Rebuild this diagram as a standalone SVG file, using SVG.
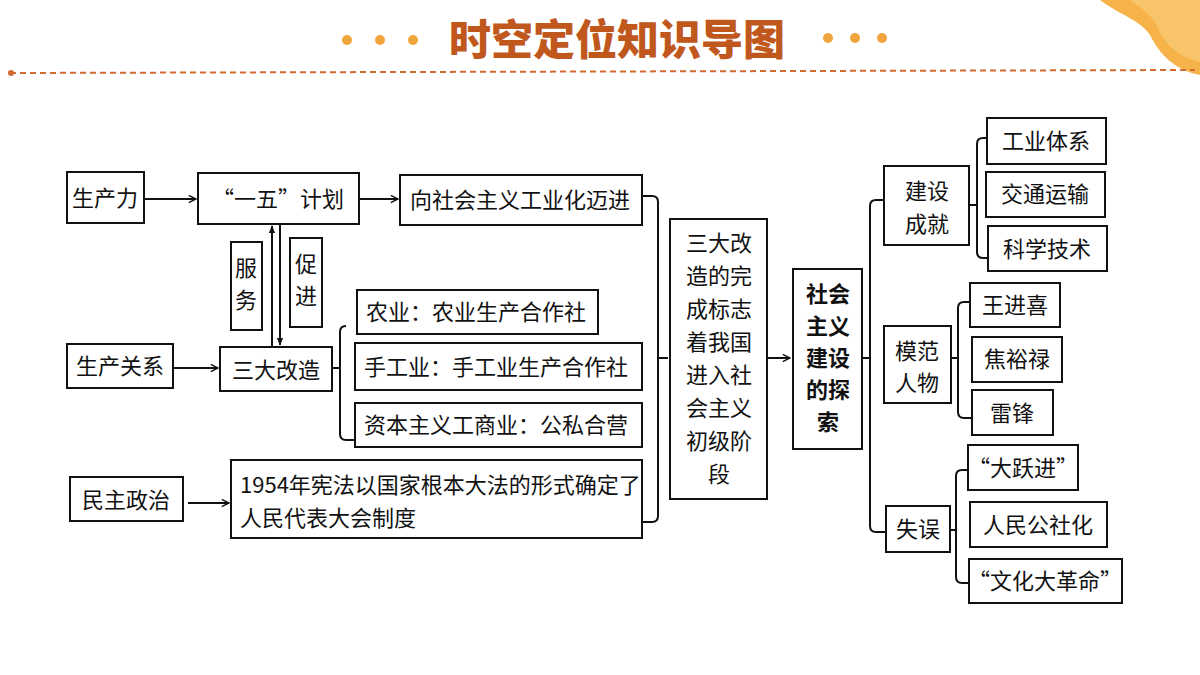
<svg xmlns="http://www.w3.org/2000/svg" width="1200" height="675" viewBox="0 0 1200 675">
<style>
.b{fill:#fff;stroke:#111;stroke-width:2}
.t{font-family:"Noto Sans CJK SC","Liberation Serif",sans-serif;font-size:22px;fill:#111}
.c{fill:none;stroke:#111;stroke-width:2}
</style>
<defs><marker id="a" viewBox="0 0 10 10" refX="9" refY="5" markerWidth="9" markerHeight="9" orient="auto" markerUnits="userSpaceOnUse"><path d="M1,1 L9,5 L1,9" fill="none" stroke="#111" stroke-width="1.6"/></marker>
<marker id="f" viewBox="0 0 10 10" refX="9" refY="5" markerWidth="8" markerHeight="8" orient="auto" markerUnits="userSpaceOnUse"><path d="M0,1 L10,5 L0,9z" fill="#111"/></marker></defs>
<rect width="1200" height="675" fill="#fff"/>
<g id="header">
<path d="M1100,0 L1200,0 L1200,75 C1175,70 1160,55 1150,35 C1140,20 1120,15 1100,0z" fill="#f5b34a"/>
<path d="M1130,0 L1200,0 L1200,62 C1180,58 1165,45 1158,28 C1150,12 1140,8 1130,0z" fill="#f7c46a"/>
<g fill="#f0a43c"><circle cx="347" cy="40" r="5"/><circle cx="380" cy="40" r="5"/><circle cx="413" cy="40" r="5"/><circle cx="828" cy="38" r="5"/><circle cx="855" cy="38" r="5"/><circle cx="882" cy="38" r="5"/></g>
<text x="617" y="55" text-anchor="middle" font-family="Noto Sans CJK SC,sans-serif" font-weight="900" font-size="42" fill="#c0581e">时空定位知识导图</text>
<line x1="10" y1="73" x2="1195" y2="70" stroke="#d06a30" stroke-width="2" stroke-dasharray="6,4"/>
<circle cx="11" cy="73" r="3" fill="#d06a30"/>
</g>
<g id="connectors">
<line class="c" x1="144" y1="199" x2="196" y2="199" marker-end="url(#a)"/>
<line class="c" x1="359" y1="199" x2="398" y2="199" marker-end="url(#a)"/>
<line class="c" x1="173" y1="368" x2="218" y2="368" marker-end="url(#a)"/>
<line class="c" x1="188" y1="503" x2="229" y2="503" marker-end="url(#a)"/>
<line class="c" x1="272" y1="346" x2="272" y2="226" marker-end="url(#f)"/>
<line class="c" x1="280" y1="225" x2="280" y2="345" marker-end="url(#f)"/>
<path class="c" d="M332,368 H340 M346,326 Q340,326 340,332 V434 Q340,440 346,440 H355"/>
<path class="c" d="M642,196 H652 Q658,196 658,202 V516 Q658,522 652,522 H642 M658,358 H668"/>
<line class="c" x1="767" y1="358" x2="790" y2="358" marker-end="url(#a)"/>
<path class="c" d="M862,358 H870 M884,200 H876 Q870,200 870,206 V526 Q870,532 876,532 H886"/>
<path class="c" d="M969,205 H977 M987,138 H983 Q977,138 977,144 V252 Q977,258 983,258 H988"/>
<path class="c" d="M951,358 H958 M970,302 H964 Q958,302 958,308 V412 Q958,418 964,418 H972"/>
<path class="c" d="M950,530 H956 M968,470 H962 Q956,470 956,476 V577 Q956,583 962,583 H969"/>
</g>
<g id="n1"><rect class="b" x="67" y="172" width="77" height="51"/><text class="t" x="105" y="206" text-anchor="middle">生产力</text></g>
<g id="n2"><rect class="b" x="198" y="173" width="161" height="51"/><text class="t" x="278" y="207" text-anchor="middle">“一五”计划</text></g>
<g id="n3"><rect class="b" x="400" y="175" width="242" height="50"/><text class="t" x="410" y="208">向社会主义工业化迈进</text></g>
<g id="n4"><rect class="b" x="231" y="242" width="31" height="88"/><text class="t" x="246" y="276" text-anchor="middle">服</text><text class="t" x="246" y="308" text-anchor="middle">务</text></g>
<g id="n5"><rect class="b" x="290" y="238" width="32" height="89"/><text class="t" x="306" y="272" text-anchor="middle">促</text><text class="t" x="306" y="304" text-anchor="middle">进</text></g>
<g id="n6"><rect class="b" x="67" y="344" width="106" height="44"/><text class="t" x="120" y="374" text-anchor="middle">生产关系</text></g>
<g id="n7"><rect class="b" x="220" y="347" width="112" height="44"/><text class="t" x="276" y="378" text-anchor="middle">三大改造</text></g>
<g id="n8"><rect class="b" x="357" y="290" width="241" height="44"/><text class="t" x="366" y="320">农业：农业生产合作社</text></g>
<g id="n9"><rect class="b" x="355" y="343" width="287" height="47"/><text class="t" x="364" y="375">手工业：手工业生产合作社</text></g>
<g id="n10"><rect class="b" x="355" y="403" width="287" height="44"/><text class="t" x="364" y="433">资本主义工商业：公私合营</text></g>
<g id="n11"><rect class="b" x="70" y="477" width="113" height="44"/><text class="t" x="126" y="508" text-anchor="middle">民主政治</text></g>
<g id="n12"><rect class="b" x="231" y="460" width="411" height="78"/><text class="t" x="240" y="493">1954年宪法以国家根本大法的形式确定了</text><text class="t" x="240" y="526">人民代表大会制度</text></g>
<g id="n13"><rect class="b" x="670" y="219" width="97" height="280"/>
<g class="t" text-anchor="middle"><text x="719" y="251">三大改</text><text x="719" y="284">造的完</text><text x="719" y="317">成标志</text><text x="719" y="350">着我国</text><text x="719" y="383">进入社</text><text x="719" y="416">会主义</text><text x="719" y="449">初级阶</text><text x="719" y="482">段</text></g></g>
<g id="n14"><rect class="b" x="793" y="269" width="69" height="180"/>
<g class="t" text-anchor="middle" font-weight="bold"><text x="828" y="302">社会</text><text x="828" y="334">主义</text><text x="828" y="366">建设</text><text x="828" y="398">的探</text><text x="828" y="430">索</text></g></g>
<g id="n15"><rect class="b" x="884" y="166" width="85" height="79"/><text class="t" x="927" y="199" text-anchor="middle">建设</text><text class="t" x="927" y="232" text-anchor="middle">成就</text></g>
<g id="n16"><rect class="b" x="987" y="118" width="119" height="46"/><text class="t" x="1046" y="149" text-anchor="middle">工业体系</text></g>
<g id="n17"><rect class="b" x="986" y="172" width="119" height="45"/><text class="t" x="1045" y="202" text-anchor="middle">交通运输</text></g>
<g id="n18"><rect class="b" x="988" y="226" width="119" height="45"/><text class="t" x="1047" y="257" text-anchor="middle">科学技术</text></g>
<g id="n19"><rect class="b" x="884" y="326" width="67" height="77"/><text class="t" x="917" y="359" text-anchor="middle">模范</text><text class="t" x="917" y="391" text-anchor="middle">人物</text></g>
<g id="n20"><rect class="b" x="970" y="283" width="90" height="44"/><text class="t" x="1015" y="313" text-anchor="middle">王进喜</text></g>
<g id="n21"><rect class="b" x="972" y="337" width="90" height="45"/><text class="t" x="1017" y="367" text-anchor="middle">焦裕禄</text></g>
<g id="n22"><rect class="b" x="972" y="390" width="81" height="45"/><text class="t" x="1012" y="421" text-anchor="middle">雷锋</text></g>
<g id="n23"><rect class="b" x="886" y="506" width="64" height="46"/><text class="t" x="918" y="537" text-anchor="middle">失误</text></g>
<g id="n24"><rect class="b" x="968" y="445" width="110" height="45"/><text class="t" x="1023" y="476" text-anchor="middle">“大跃进”</text></g>
<g id="n25"><rect class="b" x="970" y="502" width="137" height="45"/><text class="t" x="1038" y="533" text-anchor="middle">人民公社化</text></g>
<g id="n26"><rect class="b" x="969" y="559" width="153" height="44"/><text class="t" x="1045" y="589" text-anchor="middle">“文化大革命”</text></g>
</svg>
